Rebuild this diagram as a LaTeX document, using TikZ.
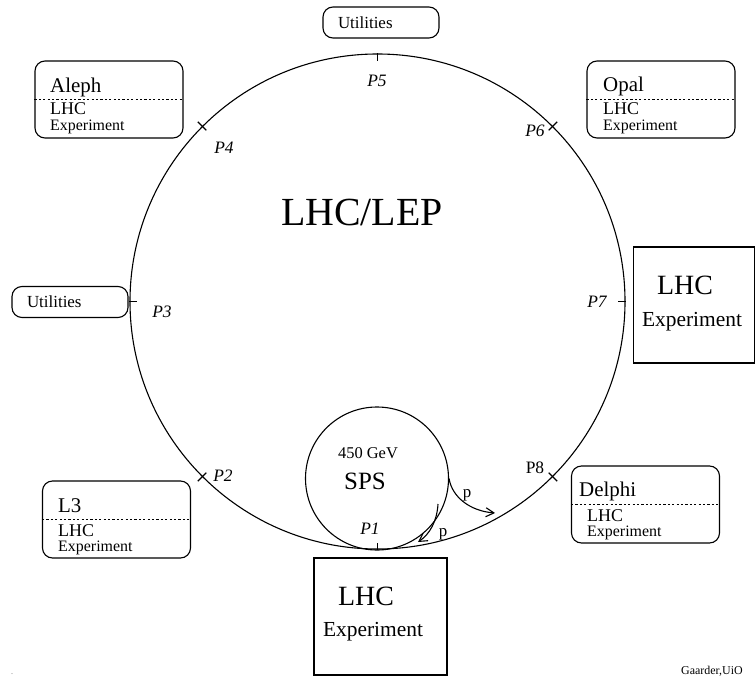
\documentclass[tikz,border=0pt]{standalone}
\usepackage{fontspec}
\setmainfont{Liberation Serif}
\usetikzlibrary{positioning,calc,arrows.meta}
\tikzset{
    ring/.style={draw,circle,line width=1.1bp,inner sep=0pt},
    expbox/.style={draw,rounded corners=10bp,line width=1.1bp,minimum width=148bp,minimum height=77bp,inner sep=0pt},
    utilbox/.style={draw,rounded corners=10bp,line width=1.1bp,minimum width=116bp,minimum height=31bp,inner xsep=0pt,text width=86bp,align=left,font=\fontsize{17}{19}\selectfont},
    bigbox/.style={draw,line width=1.1bp,inner sep=0pt},
    splitline/.style={dash pattern=on 2.2bp off 2.2bp,line width=1.1bp},
    ptick/.style={line width=1.1bp},
    beam/.style={-{Straight Barb[length=8bp,width=9bp]},line width=1.1bp},
    ptlabel/.style={font=\fontsize{17.5}{19}\selectfont\itshape},
    exptitle/.style={anchor=base west,inner sep=0pt,font=\fontsize{21}{24}\selectfont},
    explhc/.style={anchor=base west,inner sep=0pt,font=\fontsize{18}{20}\selectfont},
    expsub/.style={anchor=base west,inner sep=0pt,font=\fontsize{16}{18}\selectfont},
    bigtitle/.style={anchor=base,inner sep=0pt,font=\fontsize{28}{30}\selectfont},
    bigsub/.style={anchor=base,inner sep=0pt,font=\fontsize{21.5}{24}\selectfont}
}
\begin{document}
\begin{tikzpicture}[x=1bp,y=-1bp]
  \useasboundingbox (0,0) rectangle (756,678);
  % the LEP/LHC ring and the SPS
  \node[ring,minimum size=495bp] (lep) at (377.5,301.5) {};
  \node[ring,minimum size=143bp] (sps) at (377,478.5) {};
  \node[anchor=base,inner sep=0pt,font=\fontsize{40}{44}\selectfont] (title) at (362,225) {LHC/LEP};
  \node[anchor=base,inner sep=0pt,font=\fontsize{16.5}{18}\selectfont] (energy) at (368,458) {450 GeV};
  \node[anchor=base,inner sep=0pt,font=\fontsize{25}{28}\selectfont] (spsname) at (365,489) {SPS};

  % interaction points
  \draw[ptick] (lep.90) -- ($(lep.90)!8bp!(lep.center)$);
  \draw[ptick] (lep.270) -- ($(lep.270)!7bp!(lep.center)$);
  \draw[ptick] (lep.180) -- ($(lep.180)!8bp!(lep.center)$);
  \draw[ptick] (lep.0) -- ($(lep.0)!8bp!(lep.center)$);
  \foreach \a in {45,135,225,315}
    \draw[ptick] ($(lep.\a)!-6bp!(lep.center)$) -- ($(lep.\a)!6bp!(lep.center)$);
  \node[ptlabel] (p1) at (370,529) {P1};
  \node[ptlabel] (p2) at (223,476) {P2};
  \node[ptlabel] (p3) at (162,312) {P3};
  \node[ptlabel] (p4) at (224,148) {P4};
  \node[ptlabel] (p5) at (377,81) {P5};
  \node[ptlabel] (p6) at (535,131) {P6};
  \node[ptlabel] (p7) at (597,302) {P7};
  \node[font=\fontsize{17.5}{19}\selectfont] (p8) at (535,468) {P8};

  % beams out of the SPS
  \coordinate (ejectend) at (495,513);
  \coordinate (injstart) at (438,504);
  \coordinate (injend) at (418,542);
  \draw[beam] (sps.east) .. controls (452,497) and (470,511) .. (ejectend);
  \draw[beam] (injstart) .. controls (437,521) and (430,534) .. (injend);
  \node[anchor=base,inner sep=0pt,font=\fontsize{17}{19}\selectfont] (beamout) at (467,497) {p};
  \node[anchor=base,inner sep=0pt,font=\fontsize{17}{19}\selectfont] (beamin) at (443,536) {p};

  % utilities
  \node[utilbox] (util5) at (381,22.5) {Utilities};
  \node[utilbox] (util3) at (70,302) {Utilities};

  % experiments
  \node[expbox] (aleph) at (109,99.5) {};
  \draw[splitline] (aleph.west) -- (aleph.east);
  \node[exptitle] (alephname) at (50,93) {Aleph};
  \node[explhc] (alephlhc) at (50,115) {LHC};
  \node[expsub] (alephexp) at (50,131) {Experiment};

  \node[expbox] (opal) at (661,99.5) {};
  \draw[splitline] (opal.west) -- (opal.east);
  \node[exptitle] (opalname) at (603,92) {Opal};
  \node[explhc] (opallhc) at (603,115) {LHC};
  \node[expsub] (opalexp) at (603,131) {Experiment};

  \node[expbox] (lthree) at (116.5,519.5) {};
  \draw[splitline] (lthree.west) -- (lthree.east);
  \node[exptitle] (lthreename) at (58,512) {L3};
  \node[explhc] (lthreelhc) at (58,536) {LHC};
  \node[expsub] (lthreeexp) at (58,551) {Experiment};

  \node[expbox] (delphi) at (645.5,504.5) {};
  \draw[splitline] (delphi.west) -- (delphi.east);
  \node[exptitle] (delphiname) at (579,496) {Delphi};
  \node[explhc] (delphilhc) at (587,521) {LHC};
  \node[expsub] (delphiexp) at (587,536) {Experiment};

  \node[bigbox,minimum width=121bp,minimum height=116bp] (exp7) at (694,305) {};
  \node[bigtitle] (exp7lhc) at (685,294) {LHC};
  \node[bigsub] (exp7exp) at (692,326) {Experiment};

  \node[bigbox,minimum width=133bp,minimum height=117bp] (exp1) at (380.5,616.5) {};
  \node[bigtitle] (exp1lhc) at (366,605) {LHC};
  \node[bigsub] (exp1exp) at (373,636) {Experiment};

  \node[anchor=base,inner sep=0pt,font=\fontsize{12}{14}\selectfont] (credit) at (712,674) {Gaarder,UiO};
  \node[inner sep=0pt,font=\fontsize{6}{7}\selectfont] (dot) at (12,674) {.};
\end{tikzpicture}
\end{document}
